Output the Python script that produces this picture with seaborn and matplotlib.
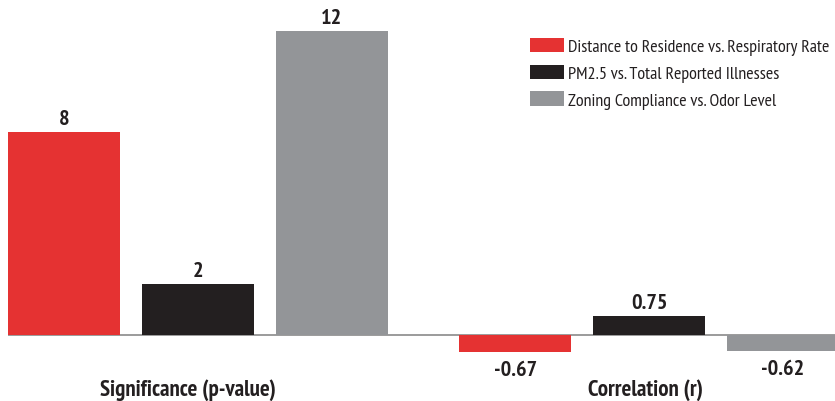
import matplotlib
matplotlib.use("Agg")
import matplotlib.pyplot as plt
import matplotlib.transforms as mtransforms
import seaborn as sns
import pandas as pd

groups = ["Significance (p-value)", "Correlation (r)"]
series = ["Distance to Residence vs. Respiratory Rate",
          "PM2.5 vs. Total Reported Illnesses",
          "Zoning Compliance vs. Odor Level"]
distance_vals = [8, -0.67]
pm25_vals = [2, 0.75]
zoning_vals = [12, -0.62]
colors = ["#E53232", "#231F20", "#939598"]

rows = []
for s, vals in zip(series, [distance_vals, pm25_vals, zoning_vals]):
    for g, v in zip(groups, vals):
        rows.append({"group": g, "series": s, "value": v})
df = pd.DataFrame(rows)

sns.set_theme(style="white")
plt.rcParams['font.family'] = ['PT Sans Narrow', 'DejaVu Sans']

fig = plt.figure(figsize=(8.35, 4.02), dpi=100)
W, H = 835, 402
ax = fig.add_axes([8 / W, (H - 360) / H, 827 / W, 360 / H])

sns.barplot(data=df, x="group", y="value", hue="series", order=groups,
            hue_order=series, palette=colors, width=0.89, gap=0.16,
            saturation=1, ax=ax, errorbar=None, linewidth=0)

pxu = 25.35
ax.set_ylim(-(360 - 336) / pxu, 336 / pxu)
ax.set_xlim((8 - 198) / 451, (835 - 198) / 451)

for c in ax.containers:
    vals = list(c.datavalues)
    ax.bar_label(c, labels=[f"{v:g}" if v >= 0 else "" for v in vals], padding=3,
                 fontsize=16, fontweight='bold', color="#231F20")
    ax.bar_label(c, labels=[f"{v:g}" if v < 0 else "" for v in vals], padding=6,
                 fontsize=16, fontweight='bold', color="#231F20")

ax.axhline(0, color="#8a8a8a", lw=1.2, zorder=0)
for sp in ax.spines.values():
    sp.set_visible(False)
ax.set_yticks([])
ax.set_xlabel("")
ax.set_ylabel("")
ax.tick_params(axis='x', length=0, pad=14, labelsize=16.5, labelcolor="#231F20")
shifts = [-10, -4]
for t, dx in zip(ax.get_xticklabels(), shifts):
    t.set_fontweight('bold')
    t.set_transform(t.get_transform() + mtransforms.ScaledTranslation(dx / 100, 0, fig.dpi_scale_trans))

leg = ax.legend(loc='upper left', bbox_to_anchor=(530 / W, 1 - 39 / H),
                bbox_transform=fig.transFigure, frameon=False, borderpad=0,
                borderaxespad=0, handlelength=1.9, handleheight=0.83,
                handletextpad=0.22, labelspacing=0.52, fontsize=13)
for t in leg.get_texts():
    t.set_color("#231F20")

fig.savefig("out.png", dpi=100)
